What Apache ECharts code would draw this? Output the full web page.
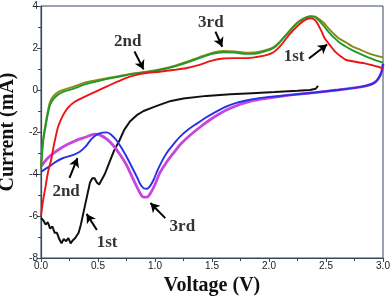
<!DOCTYPE html>
<html>
<head>
<meta charset="utf-8">
<script src="https://cdn.jsdelivr.net/npm/echarts@6/dist/echarts.min.js"></script>
<style>
html,body{margin:0;padding:0;background:#fff;}
#chart{width:392px;height:299px;}
</style>
</head>
<body>
<div id="chart"></div>
<script>
// ---- data (Voltage V, Current mA) ----
var xTicks = ['0.0','0.5','1.0','1.5','2.0','2.5','3.0'];
var yTicks = ['-8','-6','-4','-2','0','2','4'];

var cathodic1st = [[0,-6.1],[0.02,-6.2],[0.04,-6.4],[0.06,-6.3],[0.08,-6.6],[0.1,-6.5],[0.12,-6.8],[0.14,-6.8],[0.16,-7.1],[0.18,-7.3],[0.2,-7.1],[0.22,-7.2],[0.24,-7.05],[0.26,-7.3],[0.28,-7.15],[0.3,-7.05],[0.33,-6.8],[0.35,-6.4],[0.37,-5.9],[0.39,-5.4],[0.41,-4.9],[0.43,-4.4],[0.45,-4.2],[0.47,-4.2],[0.49,-4.4],[0.51,-4.5],[0.53,-4.3],[0.56,-4.0],[0.6,-3.45],[0.64,-2.9],[0.69,-2.38],[0.73,-1.9],[0.78,-1.5],[0.84,-1.2],[0.9,-1.0],[0.97,-0.85],[1.04,-0.71],[1.14,-0.52],[1.25,-0.4],[1.45,-0.28],[1.66,-0.2],[1.85,-0.15],[2.05,-0.1],[2.25,-0.04],[2.36,0.0],[2.41,0.06],[2.43,0.2]];

var cathodic2nd = [[0,-3.9],[0.07,-3.65],[0.13,-3.42],[0.19,-3.25],[0.25,-3.15],[0.3,-3.05],[0.34,-2.94],[0.39,-2.7],[0.44,-2.35],[0.49,-2.12],[0.54,-2.03],[0.58,-2.02],[0.62,-2.15],[0.66,-2.38],[0.7,-2.7],[0.75,-3.17],[0.8,-3.7],[0.84,-4.13],[0.87,-4.48],[0.9,-4.68],[0.93,-4.7],[0.96,-4.55],[0.99,-4.25],[1.02,-3.85],[1.06,-3.4],[1.1,-3.02],[1.16,-2.6],[1.22,-2.22],[1.3,-1.85],[1.37,-1.59],[1.44,-1.33],[1.51,-1.11],[1.6,-0.85],[1.7,-0.64],[1.8,-0.5],[1.9,-0.4],[2.0,-0.33],[2.2,-0.23],[2.4,-0.12],[2.6,0.0],[2.75,0.1],[2.85,0.2],[2.92,0.33],[2.96,0.55],[2.99,0.9],[3.0,1.25]];

var cathodic3rd = [[0,-3.65],[0.05,-3.3],[0.1,-3.05],[0.18,-2.75],[0.25,-2.55],[0.33,-2.35],[0.39,-2.25],[0.47,-2.1],[0.52,-2.15],[0.58,-2.35],[0.63,-2.62],[0.69,-3.05],[0.75,-3.57],[0.8,-4.15],[0.84,-4.6],[0.87,-4.92],[0.9,-5.1],[0.93,-5.1],[0.96,-4.92],[1.0,-4.5],[1.04,-3.97],[1.1,-3.45],[1.16,-3.02],[1.23,-2.55],[1.31,-2.14],[1.4,-1.75],[1.48,-1.43],[1.57,-1.12],[1.66,-0.87],[1.75,-0.68],[1.85,-0.52],[1.95,-0.42],[2.1,-0.3],[2.25,-0.2],[2.4,-0.12],[2.6,0.0],[2.75,0.1],[2.85,0.2],[2.92,0.33],[2.96,0.55],[2.99,0.9],[3.0,1.25]];

var anodic1st = [[0,-6.0],[0.02,-5.2],[0.04,-4.6],[0.06,-3.95],[0.09,-3.3],[0.11,-2.7],[0.13,-2.2],[0.15,-1.75],[0.18,-1.35],[0.21,-1.05],[0.24,-0.82],[0.3,-0.55],[0.39,-0.3],[0.46,-0.12],[0.53,0.05],[0.61,0.25],[0.68,0.42],[0.75,0.58],[0.82,0.7],[0.91,0.8],[1.04,0.87],[1.16,0.95],[1.28,1.05],[1.39,1.2],[1.5,1.4],[1.6,1.5],[1.7,1.52],[1.8,1.52],[1.89,1.57],[1.97,1.65],[2.04,1.8],[2.1,2.1],[2.18,2.65],[2.24,3.0],[2.3,3.28],[2.36,3.42],[2.4,3.35],[2.43,3.12],[2.46,2.8],[2.49,2.45],[2.54,2.1],[2.58,1.83],[2.63,1.6],[2.67,1.45],[2.72,1.38],[2.78,1.32],[2.84,1.27],[2.9,1.19],[2.95,1.12],[3.0,1.03]];

var anodic2nd = [[0,-3.75],[0.01,-3.0],[0.02,-2.4],[0.04,-1.75],[0.06,-1.15],[0.08,-0.7],[0.11,-0.42],[0.15,-0.22],[0.2,-0.08],[0.28,0.05],[0.39,0.28],[0.52,0.45],[0.68,0.63],[0.81,0.77],[0.91,0.84],[1.04,0.95],[1.16,1.1],[1.28,1.3],[1.39,1.52],[1.5,1.72],[1.6,1.8],[1.7,1.78],[1.8,1.72],[1.89,1.74],[1.97,1.85],[2.04,2.0],[2.1,2.3],[2.18,2.8],[2.24,3.15],[2.3,3.38],[2.36,3.5],[2.4,3.48],[2.43,3.35],[2.48,3.05],[2.52,2.78],[2.56,2.55],[2.61,2.3],[2.68,2.05],[2.73,1.9],[2.8,1.72],[2.87,1.55],[2.93,1.42],[3.0,1.3]];

var anodic3rd = [[0,-3.7],[0.01,-2.9],[0.02,-2.3],[0.04,-1.6],[0.06,-1.0],[0.08,-0.55],[0.11,-0.28],[0.15,-0.1],[0.2,0.02],[0.28,0.15],[0.39,0.36],[0.52,0.5],[0.68,0.66],[0.81,0.79],[0.91,0.86],[1.04,0.98],[1.16,1.13],[1.28,1.35],[1.39,1.57],[1.5,1.77],[1.6,1.86],[1.7,1.84],[1.8,1.78],[1.89,1.8],[1.97,1.9],[2.04,2.05],[2.1,2.33],[2.18,2.82],[2.24,3.17],[2.3,3.4],[2.36,3.52],[2.4,3.5],[2.43,3.42],[2.48,3.2],[2.52,2.95],[2.56,2.72],[2.61,2.47],[2.68,2.25],[2.73,2.08],[2.8,1.92],[2.87,1.76],[2.93,1.65],[3.0,1.55]];

// annotation labels [x, y, text] and arrows [[tailX, tailY],[headX, headY]] in data units
var labelTexts = [[0.76,2.29,'2nd'],[1.49,3.19,'3rd'],[2.22,1.57,'1st'],[0.22,-4.86,'2nd'],[0.58,-7.29,'1st'],[1.24,-6.52,'3rd']];
var arrowTails = [[0.82,1.83],[1.53,2.78],[2.35,1.5],[0.25,-4.19],[0.49,-6.67],[1.09,-6.1]];
var arrowHeads = [[0.9,0.98],[1.59,2.06],[2.51,2.17],[0.32,-3.24],[0.4,-5.9],[0.96,-5.38]];

var axisColor = '#34495e';
var chart = echarts.init(document.getElementById('chart'), null, {renderer:'canvas'});

function lineSeries(name, data, color, width, smooth){
  return {name:name, type:'line', data:data, showSymbol:false, symbol:'none', smooth:smooth,
          lineStyle:{color:color, width:width}, silent:true, z:3};
}

var arrowData = arrowTails.map(function(t,i){ return [{coord:t},{coord:arrowHeads[i]}]; });

var option = {
  animation:false,
  grid:{left:41, right:9, top:6, bottom:41, containLabel:false, outerBoundsMode:'none',
        show:true, borderColor:axisColor, borderWidth:1},
  xAxis:{type:'value', min:0, max:3, interval:0.5,
    axisLine:{show:true, onZero:false, lineStyle:{color:axisColor, width:1.2}},
    axisTick:{show:true, inside:false, length:4, lineStyle:{color:axisColor}},
    minorTick:{show:true, splitNumber:2, length:3, lineStyle:{color:axisColor}},
    splitLine:{show:false},
    axisLabel:{color:'#222', fontFamily:'Liberation Sans', fontSize:10, margin:3,
      formatter:function(v){ var i = xTicks.indexOf(v.toFixed(1)); return i>=0 ? xTicks[i] : ''; }},
    name:'Voltage (V)', nameLocation:'middle', nameGap:17,
    nameTextStyle:{fontFamily:'Liberation Serif', fontWeight:'bold', fontSize:20, color:'#111'}
  },
  yAxis:{type:'value', min:-8, max:4, interval:2,
    axisLine:{show:true, onZero:false, lineStyle:{color:axisColor, width:1.2}},
    axisTick:{show:true, inside:false, length:4, lineStyle:{color:axisColor}},
    minorTick:{show:true, splitNumber:2, length:3, lineStyle:{color:axisColor}},
    splitLine:{show:false},
    axisLabel:{color:'#222', fontFamily:'Liberation Sans', fontSize:10, margin:3,
      formatter:function(v){ var i = yTicks.indexOf(String(v)); return i>=0 ? yTicks[i] : ''; }},
    name:'Current (mA)', nameLocation:'middle', nameGap:21,
    nameTextStyle:{fontFamily:'Liberation Serif', fontWeight:'bold', fontSize:20, color:'#111'}
  },
  series:[
    lineSeries('1st cathodic', cathodic1st, '#111111', 2, false),
    lineSeries('3rd cathodic', cathodic3rd, '#c845e0', 2.8, 0.3),
    lineSeries('2nd cathodic', cathodic2nd, '#2630e6', 1.9, 0.3),
    lineSeries('3rd anodic', anodic3rd, '#8c8a14', 1.9, 0.3),
    lineSeries('2nd anodic', anodic2nd, '#1c9a2c', 1.9, 0.3),
    lineSeries('1st anodic', anodic1st, '#ee1414', 1.9, 0.3),
    {type:'line', data:[], silent:true, z:5,
      markLine:{silent:true, symbol:['none','arrow'], symbolSize:[8,9], animation:false,
        lineStyle:{color:'#000', width:2, type:'solid'}, label:{show:false}, data:arrowData}},
    {type:'scatter', data:labelTexts, symbolSize:1, silent:true, z:6,
      itemStyle:{color:'rgba(0,0,0,0)'},
      label:{show:true, position:'inside', color:'#000', fontFamily:'Liberation Serif', fontWeight:'bold', fontSize:17,
        formatter:function(p){ return p.value[2]; }}}
  ]
};
chart.setOption(option);
</script>
</body>
</html>
